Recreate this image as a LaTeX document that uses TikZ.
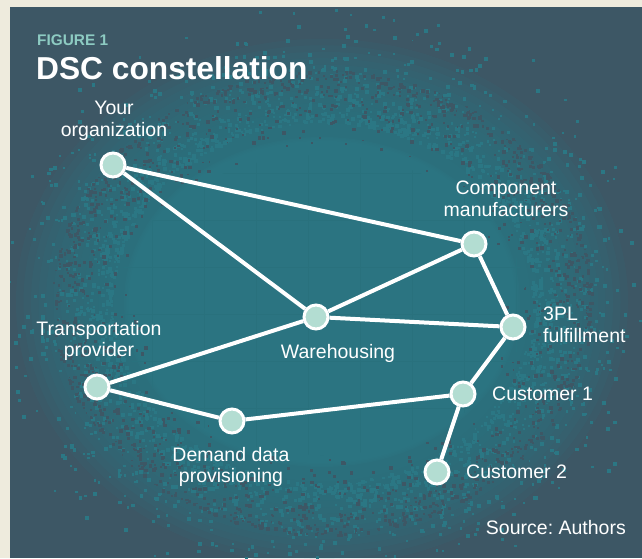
\documentclass[tikz,border=0pt]{standalone}
\usepackage{fontspec}
\setmainfont{Liberation Sans}
\usetikzlibrary{positioning}
\frenchspacing

\definecolor{paper}{HTML}{EEEBDD}
\definecolor{slate}{HTML}{3D5765}
\definecolor{deepteal}{HTML}{2B7784}
\definecolor{gridteal}{HTML}{29717D}
\definecolor{mint}{HTML}{B3DDD2}
\definecolor{figmint}{HTML}{8DCBC2}

\begin{document}
\begin{tikzpicture}[
        x=1pt, y=-1pt,
        dot/.style={
            circle,
            draw=white,
            line width=3pt,
            fill=mint,
            minimum size=24pt,
            inner sep=0pt
        },
        link/.style={draw=white, line width=4pt},
        lbl/.style={
            text=white,
            font=\fontsize{19.5}{21.5}\selectfont,
            align=center,
            inner sep=0pt
        }
    ]
        \useasboundingbox (0,0) rectangle (642,558);
        \fill[paper] (0,0) rectangle (642,558);
        \fill[slate] (10,7) rectangle (642,558);

        % glow, grain and faint grid
        \begin{scope}
            \clip (10,7) rectangle (642,558);
            \foreach \r in {1.02,0.995,...,0.64}
                \fill[deepteal, opacity=0.12] (322,302) ellipse ({300*\r} and {258*\r});
            \foreach \r in {0.66,0.655,...,0.60}
                \fill[deepteal, opacity=0.3] (322,302) ellipse ({300*\r} and {250*\r});
            \pgfmathsetseed{42}
            \foreach \i in {1,...,2600}{
                \pgfmathsetmacro{\ang}{360*rnd}
                \pgfmathsetmacro{\rad}{0.7+0.48*rnd*rnd}
                \pgfmathsetmacro{\sz}{1.8+2.4*rnd}
                \fill[deepteal] ({322+300*\rad*cos(\ang)},{302+258*\rad*sin(\ang)}) rectangle ++(\sz,\sz);
            }
            \foreach \i in {1,...,1600}{
                \pgfmathsetmacro{\ang}{360*rnd}
                \pgfmathsetmacro{\rad}{0.9-0.3*rnd*rnd}
                \pgfmathsetmacro{\sz}{1.6+2.2*rnd}
                \fill[slate] ({322+300*\rad*cos(\ang)},{302+258*\rad*sin(\ang)}) rectangle ++(\sz,\sz);
            }
            \clip (322,305) ellipse (205 and 150);
            \foreach \gx in {152,204,...,620}
                \draw[gridteal, line width=0.6pt] (\gx,100) -- (\gx,520);
            \foreach \gy in {173,220,...,520}
                \draw[gridteal, line width=0.6pt] (60,\gy) -- (600,\gy);
        \end{scope}

        % heading
        \node[anchor=west, inner sep=0pt, text=figmint, font=\fontsize{15.4}{17}\selectfont\bfseries] (fig) at (37,40) {FIGURE 1};
        \node[anchor=west, inner sep=0pt, text=white, font=\fontsize{31.7}{34}\selectfont\bfseries] (title) at (36,68) {DSC constellation};

        % partners
        \node[dot] (org) at (113,165) {};
        \node[dot] (comp) at (474,244) {};
        \node[dot] (ware) at (316,317) {};
        \node[dot] (tpl) at (513,327) {};
        \node[dot] (trans) at (97,387) {};
        \node[dot] (demand) at (232,421) {};
        \node[dot] (cust1) at (463,394) {};
        \node[dot] (cust2) at (437,472) {};

        % links
        \draw[link] (org) -- (ware);
        \draw[link] (org) -- (comp);
        \draw[link] (comp) -- (ware);
        \draw[link] (comp) -- (tpl);
        \draw[link] (ware) -- (tpl);
        \draw[link] (ware) -- (trans);
        \draw[link] (trans) -- (demand);
        \draw[link] (demand) -- (cust1);
        \draw[link] (cust1) -- (tpl);
        \draw[link] (cust1) -- (cust2);

        % labels
        \node[lbl] (orglbl) at (114,121) {Your\\organization};
        \node[lbl] (complbl) at (506,199) {Component\\manufacturers};
        \node[lbl, anchor=west, align=left] (tpllbl) at (543,325) {3PL\\fulfillment};
        \node[lbl] (translbl) at (99,341) {Transportation\\provider};
        \node[lbl] (warelbl) at (338,353) {Warehousing};
        \node[lbl, anchor=west] (cust1lbl) at (492,394) {Customer 1};
        \node[lbl] (demandlbl) at (231,467) {Demand data\\provisioning};
        \node[lbl, anchor=west] (cust2lbl) at (466,472) {Customer 2};
        \node[lbl, anchor=east] (source) at (626,528) {Source: Authors};
    \end{tikzpicture}
\end{document}
